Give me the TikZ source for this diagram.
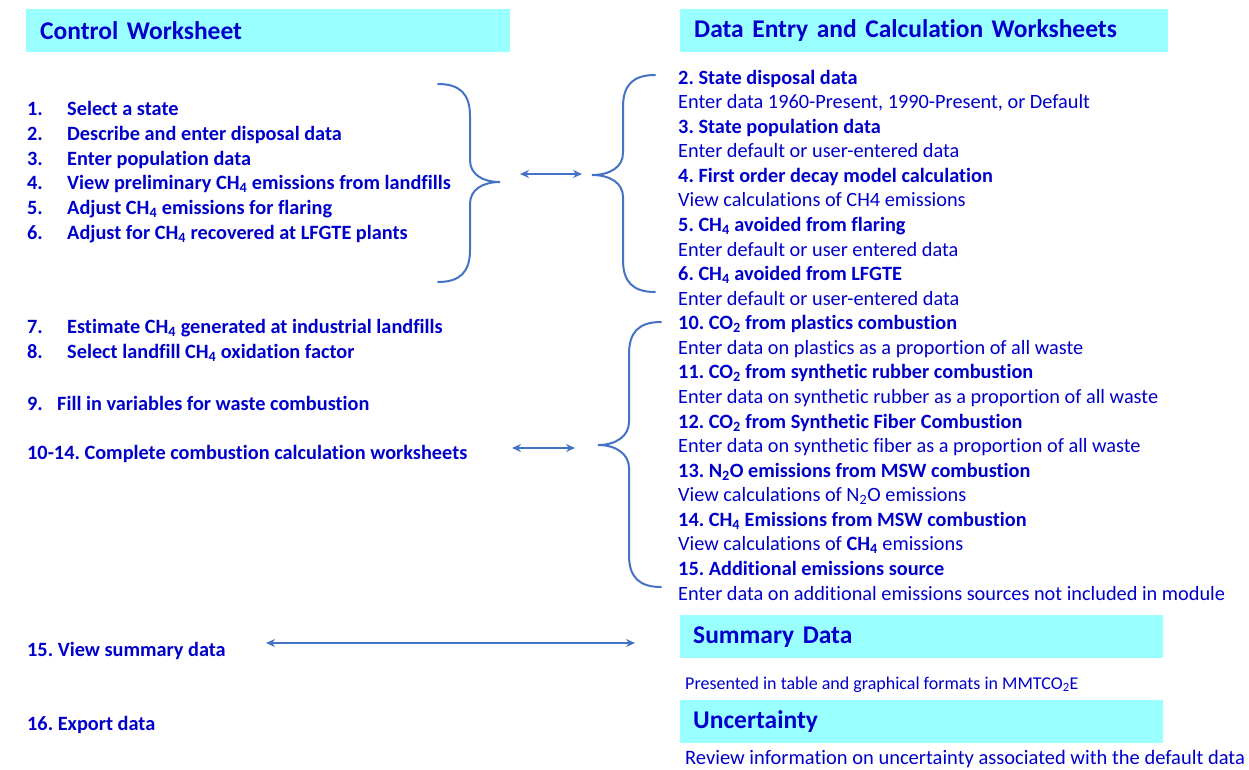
\documentclass[tikz,border=0pt]{standalone}
\usepackage{fontspec}
\setmainfont{Carlito}[Ligatures=NoCommon]
\usetikzlibrary{arrows.meta}
\definecolor{txtblue}{HTML}{0000CC}
\definecolor{boxcyan}{HTML}{99FFFF}
\definecolor{lineblue}{HTML}{4472C4}
\newcommand\lsub[1]{\textsubscript{#1}}
\frenchspacing
\begin{document}
\begin{tikzpicture}[x=1pt,y=-1pt,
  every node/.style={inner sep=0pt, text=txtblue},
  item/.style={anchor=base west, font=\fontsize{20.3}{24}\selectfont\bfseries},
  desc/.style={anchor=base west, font=\fontsize{20.3}{24}\selectfont},
  header/.style={anchor=north west, fill=boxcyan, minimum height=43pt, inner xsep=14pt, align=left, font=\fontsize{25.5}{30}\selectfont\bfseries},
  brace/.style={draw=lineblue, line width=2pt, line cap=round},
  link/.style={draw=lineblue, line width=2.2pt, {Stealth[length=9pt,width=8pt]}-{Stealth[length=9pt,width=8pt]}}
]
\useasboundingbox (0,0) rectangle (1249,769);

% headers
\node[header, text width=456pt] (hctrl) at (26,9) {Control Worksheet};
\node[header, text width=460pt] (hdata) at (680,9) {Data Entry and Calculation Worksheets};

% left list, group 1
\node[item] (n1) at (27,115) {1.};  \node[item] (l1) at (67,115) {Select a state};
\node[item] (n2) at (27,140) {2.};  \node[item] (l2) at (67,140) {Describe and enter disposal data};
\node[item] (n3) at (27,165) {3.};  \node[item] (l3) at (67,165) {Enter population data};
\node[item] (n4) at (27,189) {4.};  \node[item] (l4) at (67,189) {View preliminary CH\lsub{4} emissions from landfills};
\node[item] (n5) at (27,214) {5.};  \node[item] (l5) at (67,214) {Adjust CH\lsub{4} emissions for flaring};
\node[item] (n6) at (27,239) {6.};  \node[item] (l6) at (67,239) {Adjust for CH\lsub{4} recovered at LFGTE plants};

% left list, group 2
\node[item] (n7) at (27,333) {7.};  \node[item] (l7) at (67,333) {Estimate CH\lsub{4} generated at industrial landfills};
\node[item] (n8) at (27,358) {8.};  \node[item] (l8) at (67,358) {Select landfill CH\lsub{4} oxidation factor};
\node[item] (n9) at (27,410) {9.};  \node[item] (l9) at (57,410) {Fill in variables for waste combustion};
\node[item] (l10) at (27,459) {10-14. Complete combustion calculation worksheets};
\node[item] (l15) at (27,656) {15. View summary data};
\node[item] (l16) at (27,730) {16. Export data};

% right column
\node[item] (r0)  at (678,84.0)  {2. State disposal data};
\node[desc] (r1)  at (678,108.6) {Enter data 1960-Present, 1990-Present, or Default};
\node[item] (r2)  at (678,133.1) {3. State population data};
\node[desc] (r3)  at (678,157.7) {Enter default or user-entered data};
\node[item] (r4)  at (678,182.3) {4. First order decay model calculation};
\node[desc] (r5)  at (678,206.9) {View calculations of CH4 emissions};
\node[item] (r6)  at (678,231.4) {5. CH\lsub{4} avoided from flaring};
\node[desc] (r7)  at (678,256.0) {Enter default or user entered data};
\node[item] (r8)  at (678,280.6) {6. CH\lsub{4} avoided from LFGTE};
\node[desc] (r9)  at (678,305.1) {Enter default or user-entered data};
\node[item] (r10) at (678,329.7) {10. CO\lsub{2} from plastics combustion};
\node[desc] (r11) at (678,354.3) {Enter data on plastics as a proportion of all waste};
\node[item] (r12) at (678,378.8) {11. CO\lsub{2} from synthetic rubber combustion};
\node[desc] (r13) at (678,403.4) {Enter data on synthetic rubber as a proportion of all waste};
\node[item] (r14) at (678,428.0) {12. CO\lsub{2} from Synthetic Fiber Combustion};
\node[desc] (r15) at (678,452.6) {Enter data on synthetic fiber as a proportion of all waste};
\node[item] (r16) at (678,477.1) {13. N\lsub{2}O emissions from MSW combustion};
\node[desc] (r17) at (678,501.7) {View calculations of N\lsub{2}O emissions};
\node[item] (r18) at (678,526.3) {14. CH\lsub{4} Emissions from MSW combustion};
\node[desc] (r19) at (678,550.8) {View calculations of \textbf{CH\lsub{4}} emissions};
\node[item] (r20) at (678,575.4) {15. Additional emissions source};
\node[desc] (r21) at (678,600.0) {Enter data on additional emissions sources not included in module};

% summary and uncertainty
\node[header, text width=457pt, inner xsep=13pt] (hsum) at (680,615) {Summary Data};
\node[desc, font=\fontsize{18}{22}\selectfont] (psum) at (685,689) {Presented in table and graphical formats in MMTCO\lsub{2}E};
\node[header, text width=457pt, inner xsep=13pt] (hunc) at (680,700) {Uncertainty};
\node[desc, font=\fontsize{20.5}{24}\selectfont] (punc) at (685,764) {Review information on uncertainty associated with the default data};

% braces
\draw[brace] (438,84) .. controls (460,84) and (470,94) .. (470,116) -- (470,160)
  .. controls (470,174) and (482,182) .. (500,182)
  .. controls (482,182) and (470,190) .. (470,204) -- (470,250)
  .. controls (470,272) and (460,282) .. (438,282);
\draw[brace] (655,75) .. controls (633,75) and (623,85) .. (623,107) -- (623,153)
  .. controls (623,167) and (610,175) .. (592,175)
  .. controls (610,175) and (623,183) .. (623,197) -- (623,260)
  .. controls (623,282) and (633,292) .. (655,292);
\draw[brace] (661,322) .. controls (639,322) and (629,332) .. (629,354) -- (629,422)
  .. controls (629,436) and (616,445) .. (598,445)
  .. controls (616,445) and (629,454) .. (629,468) -- (629,555)
  .. controls (629,577) and (639,587) .. (661,587);

% connectors
\coordinate (a1l) at (520,174); \coordinate (a1r) at (582,174);
\coordinate (a2l) at (512,448); \coordinate (a2r) at (575,448);
\coordinate (a3l) at (266,643); \coordinate (a3r) at (635,643);
\draw[link] (a1l) -- (a1r);
\draw[link] (a2l) -- (a2r);
\draw[link] (a3l) -- (a3r);
\end{tikzpicture}
\end{document}
